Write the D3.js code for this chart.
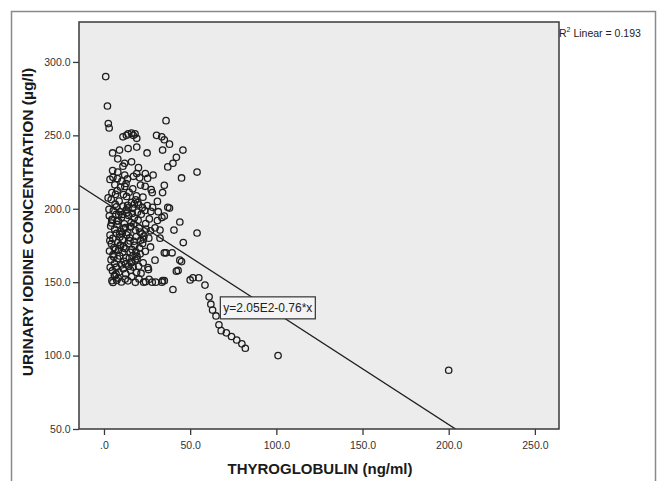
<!DOCTYPE html>
<html><head><meta charset="utf-8">
<script src="https://cdn.jsdelivr.net/npm/d3@7/dist/d3.min.js"></script>
<style>body{margin:0;background:#fff;}svg{display:block;font-family:"Liberation Sans",Arial,sans-serif;}</style>
</head><body><svg id="c" width="659" height="481"></svg>
<script>
const xTicks = [0, 50, 100, 150, 200, 250];
const yTicks = [50, 100, 150, 200, 250, 300];
const xTitle = "THYROGLOBULIN (ng/ml)";
const yTitle = "URINARY IODINE CONCENTRATION (µg/l)";
const fitIntercept = 205;
const fitSlope = -0.76;
const fitLabel = "y=2.05E2-0.76*x";
const r2Label = "0.193";
const thyroglobulin = [
 1,2,2.5,3,11,13,14,16,17,18,19,30.5,33.5,35,38,36,5,9,14,19,25,34,45.8,42,40,37,8,12,16,11,20,5,8,12,19,24,28.5,54,
 3.5,5.2,7.8,10.4,13.6,17.1,20.7,25.3,45,6.3,9.6,12.8,16.7,21.2,23.9,27.4,35,4.6,7.7,11.3,14.6,18.8,22.6,28,34,
 4.2,6.5,8.8,11.1,13.7,15.9,18.4,20.2,22.3,25.1,28.2,31,37,38,2.9,5.4,7.2,9.3,12.9,16.6,19.4,23.7,27.2,31.5,
 3.1,4.8,6.9,8.3,10.2,11.8,14.3,15.7,17.6,19.8,21.6,24.2,26.3,31,33.6,35,44,
 3.9,6.2,7.6,9.9,12.4,13.8,15.6,18.3,20.4,22.1,24.4,27,29.6,32.5,40.6,54,
 3.5,5.1,7.3,9.2,10.7,13.2,14.9,17.4,18.7,21.3,23.2,26,32.5,46,
 4.3,5.8,8.1,9.7,12.2,14.1,16.3,17.9,20.6,22.4,27,
 3.2,5.3,6.6,9.1,10.9,12.7,15.2,16.8,19.2,21,24,35,36,39.5,
 4.1,6.1,7.9,10.3,11.6,14.4,15.8,18.1,20.1,22.7,29.6,45,44,
 3.6,4.9,7.1,8.7,11.2,12.6,15.4,16.9,18.9,21.5,25.5,43,42,
 4.6,5.2,6.3,7.4,8.2,10.1,12.3,13.9,16.1,18.2,20.3,23,24.1,26.2,28,30,33.6,34,35,
 40,50,51.6,55,58.6,
 2.4,4.4,6.7,8.6,10.6,12.1,13.4,15.1,17.3,19.6,5.6,7.5,9.4,11.4,13.1,14.7,16.4,18.6,20.9,3.4,6.0,8.4,10.8,12.5,15.5,17.7,19.1,4.5,7.0,9.0,11.5,14.0,16.2,22.9,25.8,
 61,62,63,65,66.7,68,71,74,77,80,82,101,200
];
const iodine = [
 290,270,258,255,249,250,251,251.5,250,251,248,250,249,247,244,260,238,240,241,242,238,240,240,235,231,228.5,234,231,232,229,228,226,225,223,224,224,223,225,
 220,221.4,220.6,218.8,220.3,222.1,221.2,220.7,221,216.3,214.8,217.2,213.6,216.1,215.3,213,216,211,212.4,209.7,211.2,208.8,207.9,211,211,
 206.3,203.1,205.2,201.8,202.4,204.3,206.1,202.7,200.9,202.2,201,205,201,200.5,199.6,198.8,201.3,197.9,199.2,200.3,197.7,198.8,198.2,198,
 195.2,192.8,196.1,191.7,194.3,189.8,195.4,190.6,193.8,192.2,196.3,189.9,193.1,192,194,195,191,
 188.2,186.1,189.3,184.7,187.2,183.8,188.1,185.3,186.8,182.9,186.2,185,187,185.5,185.5,183.5,
 182.1,179.8,183.2,180.7,178.9,182.3,180.2,177.8,181.1,178.6,181.4,180,180,177,
 176.2,173.6,177.1,174.8,172.9,176.3,172.2,175.1,173.3,176.4,174,
 171.2,168.7,172.3,167.9,170.2,166.8,170.3,168.1,165.9,169.2,171,170,170,170,
 165.3,162.7,166.1,161.8,164.2,160.9,163.3,165.1,160.8,163.2,165,164,165,
 160.1,157.8,160.2,156.9,159.1,155.8,158.2,160.3,156.7,156.1,160,158,157.5,
 151,149.8,154.2,151.3,152.8,150.2,152.1,150.9,153.8,149.9,152.2,150,150.3,152,150,150,150,151,151,
 145,151.5,153,153,148,
 207.4,190.3,209.8,195.9,183.4,215.2,197.3,178.1,189.6,204.2,167.3,191.6,175.2,186.7,208.4,166.4,196.8,170.6,184.1,178.3,154.7,171.8,196.2,162.3,187.6,203.3,167.7,192.4,155.6,182.6,174.2,200.7,163.8,179.3,158.6,
 140,135,131,127,121,117,115.5,113,110.6,108,105,100,90
];

const svg = d3.select("#c");
const m = {l:79, t:22, r:559, b:429};
const x = d3.scaleLinear().domain([-14.5, 264]).range([m.l, m.r]);
const y = d3.scaleLinear().domain([50, 327.2]).range([m.b, m.t]);

// outer frame
svg.append("rect").attr("x",11.5).attr("y",11.5).attr("width",644).attr("height",480)
  .attr("fill","#fff").attr("stroke","#8a8a8a").attr("stroke-width",1.5);

// plot background
svg.append("rect").attr("x",m.l).attr("y",m.t).attr("width",m.r-m.l).attr("height",m.b-m.t)
  .attr("fill","#ececec");

const clipId = "pc";
svg.append("clipPath").attr("id",clipId).append("rect")
  .attr("x",m.l).attr("y",m.t).attr("width",m.r-m.l).attr("height",m.b-m.t);

// points
const n = Math.min(thyroglobulin.length, iodine.length);
const pts = d3.range(n).map(i=>({x:thyroglobulin[i],y:iodine[i]}));
svg.append("g").selectAll("circle").data(pts).join("circle")
  .attr("cx",d=>x(d.x)).attr("cy",d=>y(d.y)).attr("r",3.2)
  .attr("fill","none").attr("stroke","#1e1e1e").attr("stroke-width",1.3);

// fit line
const xd = x.domain();
svg.append("line").attr("clip-path",`url(#${clipId})`)
  .attr("x1",x(xd[0])).attr("y1",y(fitIntercept+fitSlope*xd[0]))
  .attr("x2",x(xd[1])).attr("y2",y(fitIntercept+fitSlope*xd[1]))
  .attr("stroke","#1e1e1e").attr("stroke-width",1.3);

// equation label
const lg = svg.append("g");
const bx = x(67.5), by = y(140);
lg.append("rect").attr("x",bx).attr("y",by).attr("width",95).attr("height",22)
  .attr("fill","#f4f4f4").attr("stroke","#333").attr("stroke-width",1.2);
lg.append("text").attr("x",bx+47.5).attr("y",by+15.5).attr("text-anchor","middle")
  .attr("font-size",12).attr("fill","#222").text(fitLabel);

// plot border
svg.append("rect").attr("x",m.l).attr("y",m.t).attr("width",m.r-m.l).attr("height",m.b-m.t)
  .attr("fill","none").attr("stroke","#3a3a3a").attr("stroke-width",1.5);

// axes
const fmt = v => v===0 ? ".0" : v.toFixed(1);
const xa = svg.append("g").attr("transform",`translate(0,${m.b})`)
  .call(d3.axisBottom(x).tickValues(xTicks).tickFormat(fmt).tickSize(6).tickSizeOuter(0));
const ya = svg.append("g").attr("transform",`translate(${m.l},0)`)
  .call(d3.axisLeft(y).tickValues(yTicks).tickFormat(fmt).tickSize(6).tickSizeOuter(0));
[xa,ya].forEach(a=>{
  a.select(".domain").remove();
  a.selectAll("line").attr("stroke","#3a3a3a").attr("stroke-width",1.3);
  a.selectAll("text").attr("font-size",10.5).attr("fill","#333")
   .attr("font-family","'Liberation Sans',Arial,sans-serif");
});
xa.selectAll("text").attr("dy","1.05em");
ya.selectAll("text").attr("dx","0.05em");

// titles
svg.append("text").attr("x",320).attr("y",474).attr("text-anchor","middle")
  .attr("font-size",15).attr("font-weight","bold").attr("fill","#1a1a1a").text(xTitle);
svg.append("text").attr("transform","translate(33,222) rotate(-90)").attr("text-anchor","middle")
  .attr("font-size",15.5).attr("font-weight","bold").attr("fill","#1a1a1a").text(yTitle);

// R2 legend
const r2 = svg.append("text").attr("x",559).attr("y",37).attr("font-size",10.5).attr("fill","#222");
r2.append("tspan").text("R");
r2.append("tspan").attr("font-size",7).attr("dy",-5).text("2");
r2.append("tspan").attr("dy",5).text(" Linear = " + r2Label);
</script></body></html>
